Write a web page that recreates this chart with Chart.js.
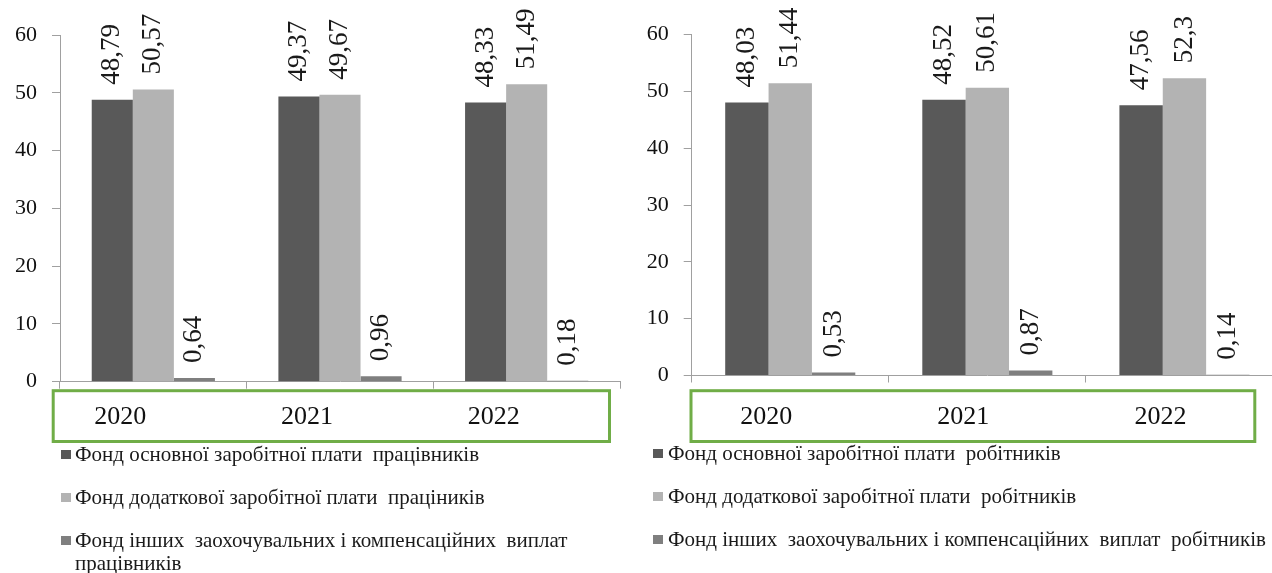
<!DOCTYPE html>
<html lang="uk">
<head>
<meta charset="utf-8">
<title>Структура фонду оплати праці</title>
<script src="https://cdn.jsdelivr.net/npm/chart.js@4.4.1/dist/chart.umd.min.js"></script>
<style>
  html, body { margin: 0; padding: 0; background: #fff; width: 1272px; height: 573px; overflow: hidden; }
  .panel { position: absolute; top: 0; }
  canvas { display: block; }
  .legend { position: absolute; font-family: "Liberation Serif", "Times New Roman", serif; font-size: 21px; color: #1a1a1a; line-height: 23px; }
  .legend .item { position: relative; margin-bottom: 20px; }
  .legend .sw { position: absolute; left: 0; top: 7px; width: 10px; height: 9px; }
  .legend .tx { display: block; }
</style>
</head>
<body>
<div class="panel" id="leftPanel" style="left:0px"><canvas id="leftChart" width="630" height="450"></canvas></div>
<div class="panel" id="rightPanel" style="left:630px"><canvas id="rightChart" width="653" height="450"></canvas></div>
<div class="legend" id="leftLegend" style="left:61px; top:443px; width:540px; white-space:pre-wrap;"></div>
<div class="legend" id="rightLegend" style="left:653px; top:442px; white-space:pre;"></div>
<script>
// Years on the category axis
const years = ['2020', '2021', '2022'];

// Left panel: wage funds of all employees, %
const staffBasicFund = [48.79, 49.37, 48.33];
const staffExtraFund = [50.57, 49.67, 51.49];
const staffOtherFund = [0.64, 0.96, 0.18];
const staffLabels = [
  'Фонд основної заробітної плати  працівників',
  'Фонд додаткової заробітної плати  праціників',
  'Фонд інших  заохочувальних і компенсаційних  виплат працівників'
];

// Right panel: wage funds of workers, %
const workerBasicFund = [48.03, 48.52, 47.56];
const workerExtraFund = [51.44, 50.61, 52.3];
const workerOtherFund = [0.53, 0.87, 0.14];
const workerLabels = [
  'Фонд основної заробітної плати  робітників',
  'Фонд додаткової заробітної плати  робітників',
  'Фонд інших  заохочувальних і компенсаційних  виплат  робітників'
];

// Value axis ticks
const valueMin = 0;
const valueMax = 60;
const valueStep = 10;

const seriesColors = ['#595959', '#b3b3b3', '#7f7f7f'];
const axisColor = '#a0a0a0';
const serif = '"Liberation Serif", "Times New Roman", serif';

// Rotated value labels above every bar
const valueLabels = {
  id: 'valueLabels',
  afterDatasetsDraw(chart) {
    const ctx = chart.ctx;
    chart.data.datasets.forEach((ds, i) => {
      const meta = chart.getDatasetMeta(i);
      meta.data.forEach((bar, j) => {
        const txt = String(ds.data[j]).replace('.', ',');
        ctx.save();
        ctx.translate(bar.x, bar.y - 15);
        ctx.rotate(-Math.PI / 2);
        ctx.font = '27px ' + serif;
        ctx.fillStyle = '#1a1a1a';
        ctx.textAlign = 'left';
        ctx.textBaseline = 'middle';
        ctx.fillText(txt, 0, 0);
        ctx.restore();
      });
    });
  }
};

// Green frame around the year labels
const yearFrame = {
  id: 'yearFrame',
  afterDraw(chart, args, o) {
    const { ctx, chartArea } = chart;
    const x0 = chartArea.left + o.dl;
    const x1 = chartArea.right + o.dr;
    const y0 = chartArea.bottom + o.dt;
    ctx.save();
    ctx.strokeStyle = o.color;
    ctx.lineWidth = 3;
    ctx.strokeRect(x0, y0, x1 - x0, o.h);
    ctx.restore();
  }
};

function buildChart(canvasId, legendId, values, labels, geo) {
  const datasets = values.map((v, i) => ({
    label: labels[i],
    data: v,
    backgroundColor: seriesColors[i],
    borderWidth: 0,
    categoryPercentage: 0.66,
    barPercentage: 1.0
  }));
  const chart = new Chart(document.getElementById(canvasId), {
    type: 'bar',
    data: { labels: years, datasets },
    options: {
      responsive: false,
      animation: false,
      events: [],
      layout: { padding: { top: geo.top, right: geo.right, left: 0, bottom: 0 } },
      plugins: {
        legend: { display: false },
        tooltip: { enabled: false },
        yearFrame: geo.frame
      },
      scales: {
        x: {
          offset: true,
          afterFit(axis) { axis.height = geo.xHeight; },
          grid: { display: true, drawOnChartArea: false, drawTicks: true, tickLength: 7, color: axisColor, offset: true },
          border: { display: true, color: axisColor },
          ticks: {
            font: { family: serif, size: 26 },
            color: '#111',
            padding: geo.xPad,
            labelOffset: geo.labelOffset,
            maxRotation: 0,
            autoSkip: false
          }
        },
        y: {
          min: valueMin,
          max: valueMax,
          afterFit(axis) { axis.width = geo.yWidth; },
          grid: { display: true, drawOnChartArea: false, drawTicks: true, tickLength: 8, color: axisColor },
          border: { display: true, color: axisColor },
          ticks: {
            stepSize: valueStep,
            font: { family: serif, size: 22 },
            color: '#111',
            padding: 15
          }
        }
      }
    },
    plugins: [valueLabels, yearFrame]
  });

  // HTML legend built from the chart's own legend items
  const items = chart.options.plugins.legend.labels.generateLabels(chart);
  const box = document.getElementById(legendId);
  items.forEach(it => {
    const row = document.createElement('div');
    row.className = 'item';
    row.style.paddingLeft = geo.legendIndent + 'px';
    const sw = document.createElement('span');
    sw.className = 'sw';
    sw.style.background = it.fillStyle;
    const tx = document.createElement('span');
    tx.className = 'tx';
    tx.textContent = it.text;
    row.appendChild(sw);
    row.appendChild(tx);
    box.appendChild(row);
  });
  return chart;
}

buildChart('leftChart', 'leftLegend',
  [staffBasicFund, staffExtraFund, staffOtherFund], staffLabels,
  { top: 35, right: 10, xHeight: 68.3, yWidth: 60, xPad: 13, labelOffset: -33, legendIndent: 14,
    frame: { color: '#70ad47', dl: -6.8, dr: -10.5, dt: 9, h: 50.8 } });

buildChart('rightChart', 'rightLegend',
  [workerBasicFund, workerExtraFund, workerOtherFund], workerLabels,
  { top: 34.5, right: 0, xHeight: 74.5, yWidth: 61.7, xPad: 19, labelOffset: -24, legendIndent: 15,
    frame: { color: '#70ad47', dl: -0.7, dr: -28.2, dt: 15.2, h: 50.8 } });
</script>
</body>
</html>
